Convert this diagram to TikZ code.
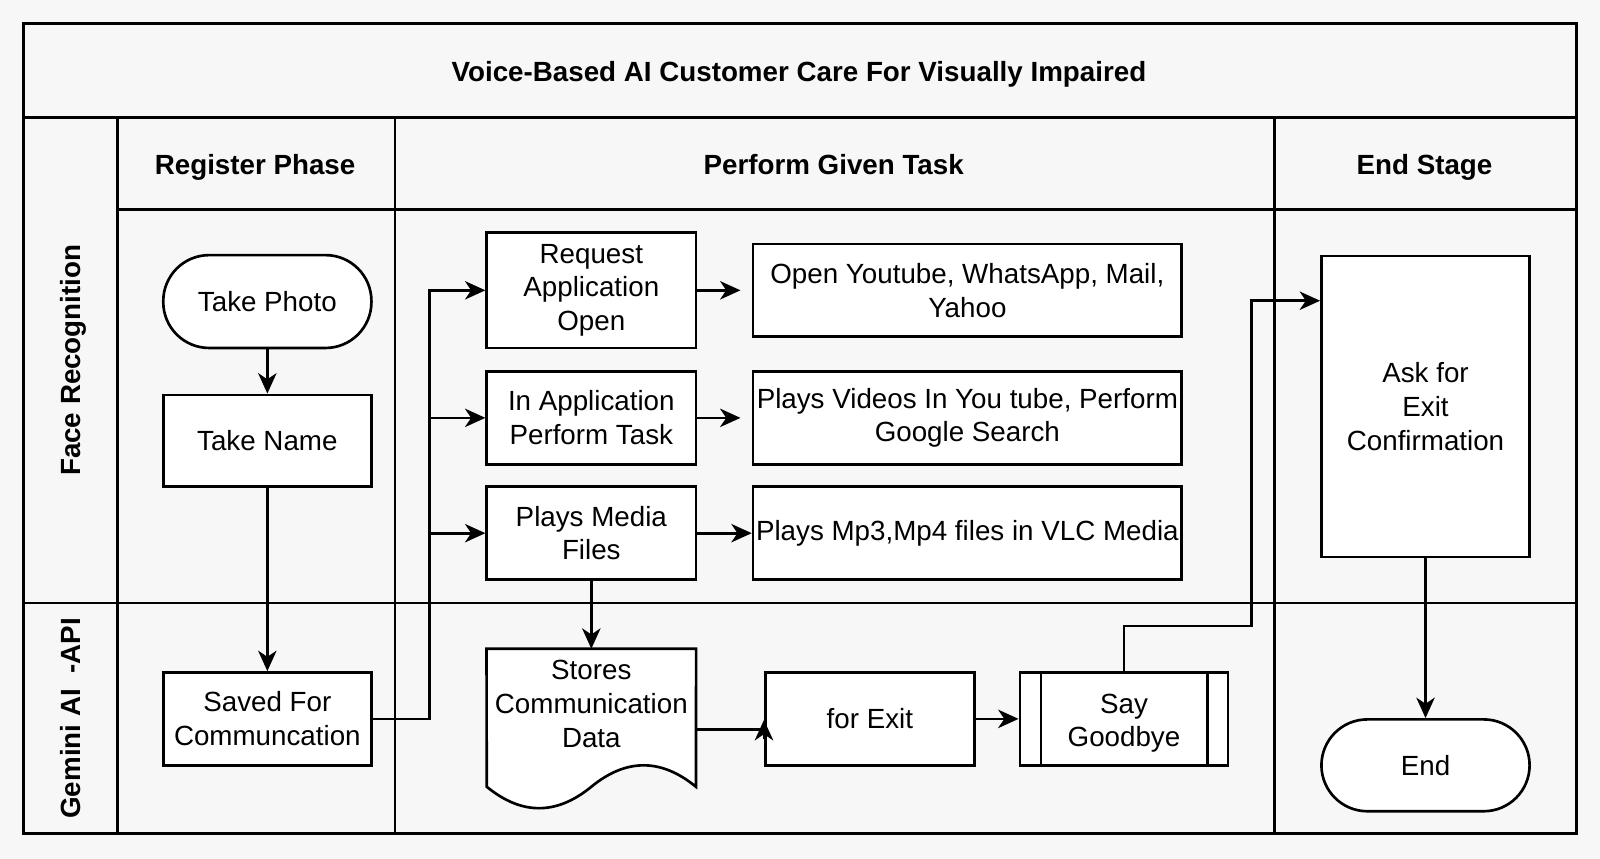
\documentclass[tikz,border=0pt]{standalone}
\usepackage{fontspec}
\setmainfont{Liberation Sans}
\usetikzlibrary{arrows.meta,calc}
\definecolor{bgc}{HTML}{F7F7F7}
\begin{document}
\begin{tikzpicture}[x=1pt,y=-1pt,
  lw/.style={line width=2.6pt},
  box/.style={draw, fill=white, lw, inner sep=0pt, align=center},
  stadium/.style={box, rounded corners=45pt},
  hdr/.style={font=\fontsize{27.2}{33}\selectfont\bfseries, inner sep=0pt, text height=19.6pt, text depth=0pt},
  arr/.style={lw, -{Stealth[length=20pt,width=18pt,inset=6pt]}},
  ln/.style={lw},
  every node/.append style={font=\fontsize{27.2}{33}\selectfont}
]
\useasboundingbox (0,0) rectangle (1568,841.8);
\fill[bgc] (0,0) rectangle (1568,841.8);
% frame and lanes
\draw[ln] (23,23) rectangle (1545,817);
\draw[ln] (23,115) -- (1545,115);
\draw[ln] (115,205) -- (1545,205);
\draw[ln] (23,591) -- (1545,591);
\draw[ln] (115,115) -- (115,817);
\draw[ln] (387,115) -- (387,817);
\draw[ln] (1249,115) -- (1249,817);
% headers
\node[hdr] (title) at (783,70) {Voice-Based AI Customer Care For Visually Impaired};
\node[hdr] (h1) at (250,161) {Register Phase};
\node[hdr] (h2) at (817,161) {Perform Given Task};
\node[hdr] (h3) at (1396,161) {End Stage};
\node[hdr, rotate=90] (l1) at (69,353) {Face Recognition};
\node[hdr, rotate=90] (l2) at (69,704) {Gemini AI\ \ -API};
% nodes
\node[stadium, minimum width=204pt, minimum height=91pt] (photo) at (262,295.5) {Take Photo};
\node[box, minimum width=204pt, minimum height=90pt] (name) at (262,432) {Take Name};
\node[box, minimum width=204pt, minimum height=91pt] (saved) at (262,704.5) {Saved For\\Communcation};
\node[box, minimum width=205pt, minimum height=113pt] (req) at (579.5,284.5) {Request\\Application\\Open};
\node[box, minimum width=205pt, minimum height=91pt] (inapp) at (579.5,409.5) {In Application\\Perform Task};
\node[box, minimum width=205pt, minimum height=91pt] (media) at (579.5,522.5) {Plays Media\\Files};
\node[box, minimum width=420pt, minimum height=91pt] (yt) at (948,284.5) {Open Youtube, WhatsApp, Mail,\\Yahoo};
\node[box, minimum width=420pt, minimum height=91pt] (vid) at (948,409.5) {Plays Videos In You tube, Perform\\Google Search};
\node[box, minimum width=420pt, minimum height=91pt] (vlc) at (948,522.5) {Plays Mp3,Mp4 files in VLC Media};
% document shape
\node[minimum width=205pt, minimum height=135pt, inner sep=0pt] (doc) at (579.5,703.5) {};
\draw[lw, fill=white] (doc.north west) -- (doc.north east) -- (682,771)
  .. controls (647.83,743) and (613.67,743) .. (579.5,771)
  .. controls (545.33,799) and (511.17,799) .. (477,771) -- cycle;
\node[align=center, inner sep=0pt] (doctext) at (579.5,690) {Stores\\Communication\\Data};
\node[box, minimum width=205pt, minimum height=91pt] (exit) at (852.5,704.5) {for Exit};
\node[box, minimum width=204pt, minimum height=91pt] (bye) at (1101.5,704.5) {};
\node[align=center, inner sep=0pt, text depth=0pt] (byetext) at (1101.5,706) {Say\\Goodbye};
\draw[lw] (1020,659) -- (1020,750);
\draw[lw] (1183.5,659) -- (1183.5,750);
\node[box, minimum width=204pt, minimum height=295pt] (ask) at (1397,398.5) {Ask for\\Exit\\Confirmation};
\node[stadium, minimum width=204pt, minimum height=90pt] (endn) at (1397,750) {End};
% connectors
\draw[arr] (photo.south) -- (name.north);
\draw[arr] (name.south) -- (saved.north);
\coordinate (trunk) at (420.8,704.5);
\draw[arr] (saved.east) -- (trunk) |- (req.west);
\draw[arr] (trunk |- inapp.west) -- (inapp.west);
\draw[arr] (trunk |- media.west) -- (media.west);
\draw[arr] (req.east) -- ($(yt.west)+(-11,0)$);
\draw[arr] (inapp.east) -- ($(vid.west)+(-11,0)$);
\draw[arr] (media.east) -- (vlc.west);
\draw[arr] (media.south) -- (doc.north);
\draw[lw] ($(doc.east)+(0,11.5)$) -- ($(exit.west)+(0,10.5)$);
\draw[arr] ($(exit.west)+(0,20)$) -- ($(exit.west)+(0,1)$);
\draw[arr] (exit.east) -- (bye.west);
\coordinate (j) at (1226.6,613.5);
\draw[arr] (bye.north) |- (j) |- ($(ask.north west)+(0,45)$);
\draw[arr] (ask.south) -- (endn.north);
\end{tikzpicture}
\end{document}
